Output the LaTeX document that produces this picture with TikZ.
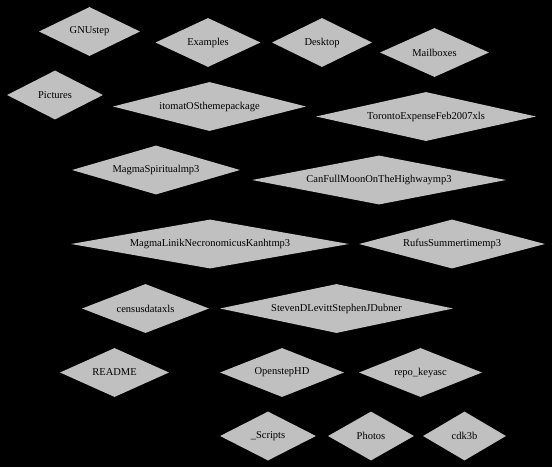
\documentclass[tikz,border=0pt]{standalone}
\usepackage{fontspec}
\setmainfont{Liberation Serif}
\usetikzlibrary{shapes.geometric}
\definecolor{dirgray}{RGB}{192,192,192}

\begin{document}
\begin{tikzpicture}[x=1pt, y=-1pt,
    file/.style={diamond, fill=dirgray, inner sep=0pt, aspect=5,
      minimum height=49pt, font=\fontsize{10.5}{12}\selectfont}]
    % Background
    \fill[black] (0,0) rectangle (552,467);
    % Top rows
    \node[file, minimum width=101pt] (gnustep) at (89.5,31.5) {GNUstep};
    \node[file, minimum width=105pt] (examples) at (208,42.5) {Examples};
    \node[file, minimum width=100pt] (desktop) at (322,42.5) {Desktop};
    \node[file, minimum width=109pt] (mailboxes) at (434.5,52.5) {Mailboxes};
    \node[file, minimum width=96pt] (pictures) at (55,95) {Pictures};
    \node[file, minimum width=193pt] (itomat) at (209.5,106.5) {itomatOSthemepackage};
    \node[file, minimum width=220pt] (toronto) at (426,116.5) {TorontoExpenseFeb2007xls};
    % Middle rows
    \node[file, minimum width=168pt] (spiritual) at (156,170) {MagmaSpiritualmp3};
    \node[file, minimum width=254pt] (fullmoon) at (379,180) {CanFullMoonOnTheHighwaymp3};
    \node[file, minimum width=278pt] (linik) at (210,244) {MagmaLinikNecronomicusKanhtmp3};
    \node[file, minimum width=186pt] (rufus) at (452,244) {RufusSummertimemp3};
    \node[file, minimum width=127pt] (census) at (145.5,308.5) {censusdataxls};
    \node[file, minimum width=233pt] (levitt) at (336.5,308.5) {StevenDLevittStephenJDubner};
    % Bottom rows
    \node[file, minimum width=109pt] (readme) at (114.5,372.5) {README};
    \node[file, minimum width=124pt] (openstep) at (282,372.5) {OpenstepHD};
    \node[file, minimum width=123pt] (repokey) at (420.5,372.5) {repo\_keyasc};
    \node[file, minimum width=96pt] (scripts) at (268,436) {\_Scripts};
    \node[file, minimum width=86pt] (photos) at (371,436) {Photos};
    \node[file, minimum width=83pt] (cdk) at (464.5,436) {cdk3b};
\end{tikzpicture}
\end{document}
